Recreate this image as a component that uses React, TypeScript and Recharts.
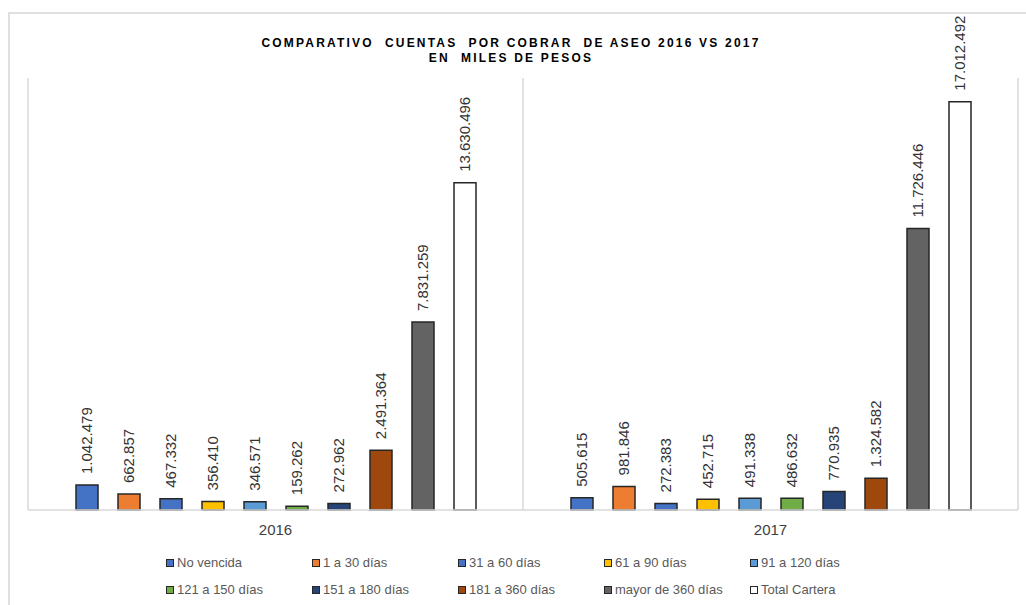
import React from "react";
import {
  BarChart,
  Bar,
  XAxis,
  YAxis,
  CartesianGrid,
  LabelList,
} from "recharts";

const years = ["2016", "2017"];

const noVencida = [1042479, 505615];
const d1a30 = [662857, 981846];
const d31a60 = [467332, 272383];
const d61a90 = [356410, 452715];
const d91a120 = [346571, 491338];
const d121a150 = [159262, 486632];
const d151a180 = [272962, 770935];
const d181a360 = [2491364, 1324582];
const mayor360 = [7831259, 11726446];
const totalCartera = [13630496, 17012492];

const SERIES = [
  { key: "noVencida", name: "No vencida", values: noVencida, color: "#4472C4" },
  { key: "d1a30", name: "1 a 30 días", values: d1a30, color: "#ED7D31" },
  { key: "d31a60", name: "31 a 60 días", values: d31a60, color: "#4472C4" },
  { key: "d61a90", name: "61 a 90 días", values: d61a90, color: "#FFC000" },
  { key: "d91a120", name: "91 a 120 días", values: d91a120, color: "#5B9BD5" },
  { key: "d121a150", name: "121 a 150 días", values: d121a150, color: "#70AD47" },
  { key: "d151a180", name: "151 a 180 días", values: d151a180, color: "#264478" },
  { key: "d181a360", name: "181 a 360 días", values: d181a360, color: "#9E480E" },
  { key: "mayor360", name: "mayor de 360 días", values: mayor360, color: "#636363" },
  { key: "total", name: "Total Cartera", values: totalCartera, color: "#FFFFFF" },
];

const data = years.map((y, i) => {
  const row: Record<string, string | number> = { year: y };
  SERIES.forEach((s) => {
    row[s.key] = s.values[i];
  });
  return row;
});

const fmt = (n: number) => String(n).replace(/\B(?=(\d{3})+(?!\d))/g, ".");

const FONT = "'Liberation Sans', Arial, sans-serif";

function BarLabel(props: any) {
  const { x, y, width, value } = props;
  const cx = Number(x) + Number(width) / 2;
  const cy = Number(y) - 11;
  return (
    <text
      x={cx}
      y={cy}
      transform={`rotate(-90 ${cx} ${cy})`}
      textAnchor="start"
      dominantBaseline="central"
      fontSize={15}
      fontFamily={FONT}
      fill="#333"
    >
      {fmt(Number(value))}
    </text>
  );
}

function LegendBox() {
  return (
    <div
      style={{
        position: "absolute",
        left: 166,
        top: 554,
        display: "flex",
        flexWrap: "wrap",
        width: 740,
        rowGap: 10,
        fontFamily: FONT,
        fontSize: 13,
        color: "#595959",
      }}
    >
      {SERIES.map((s) => (
        <div
          key={s.key}
          style={{ width: 146, display: "flex", alignItems: "center", height: 17 }}
        >
          <span
            style={{
              display: "inline-block",
              width: 6,
              height: 6,
              background: s.color,
              border: "1.5px solid #262626",
              marginRight: 3,
            }}
          />
          <span>{s.name}</span>
        </div>
      ))}
    </div>
  );
}

export default function App() {
  return (
    <div
      style={{
        position: "absolute",
        left: 0,
        top: 0,
        width: 1026,
        height: 605,
        overflow: "hidden",
        background: "#fff",
      }}
    >
      <div
        style={{
          position: "absolute",
          left: 8,
          top: 12,
          width: 1040,
          height: 620,
          borderTop: "2px solid #e0e0e0",
          borderLeft: "2px solid #e0e0e0",
        }}
      />
      <div
        style={{
          position: "absolute",
          left: 0,
          top: 36,
          width: 1022,
          textAlign: "center",
          fontFamily: FONT,
          fontWeight: "bold",
          fontSize: 12,
          letterSpacing: 2.2,
          lineHeight: "15px",
          color: "#000",
          whiteSpace: "pre",
        }}
      >
        {"COMPARATIVO  CUENTAS  POR COBRAR  DE ASEO 2016 VS 2017\nEN  MILES DE PESOS"}
      </div>
      <div style={{ position: "absolute", left: 0, top: 0 }}>
        <BarChart
          width={1026}
          height={605}
          data={data}
          margin={{ top: 78, right: 8, left: 28, bottom: 65 }}
          barSize={22}
          barGap={20}
        >
          <CartesianGrid
            horizontal={false}
            stroke="#d9d9d9"
            strokeWidth={1.5}
            verticalCoordinatesGenerator={({ offset }: any) => [
              offset.left,
              offset.left + offset.width / 2,
              offset.left + offset.width,
            ]}
          />
          <XAxis
            dataKey="year"
            height={30}
            axisLine={{ stroke: "#d9d9d9", strokeWidth: 1.5 }}
            tickLine={false}
            tickMargin={8}
            tick={{ fill: "#404040", fontSize: 15, fontFamily: FONT }}
          />
          <YAxis hide domain={[0, 18000000]} />
          {SERIES.map((s) => (
            <Bar
              key={s.key}
              dataKey={s.key}
              name={s.name}
              fill={s.color}
              stroke="#262626"
              strokeWidth={1.5}
              isAnimationActive={false}
            >
              <LabelList dataKey={s.key} content={<BarLabel />} />
            </Bar>
          ))}
        </BarChart>
      </div>
      <LegendBox />
    </div>
  );
}
